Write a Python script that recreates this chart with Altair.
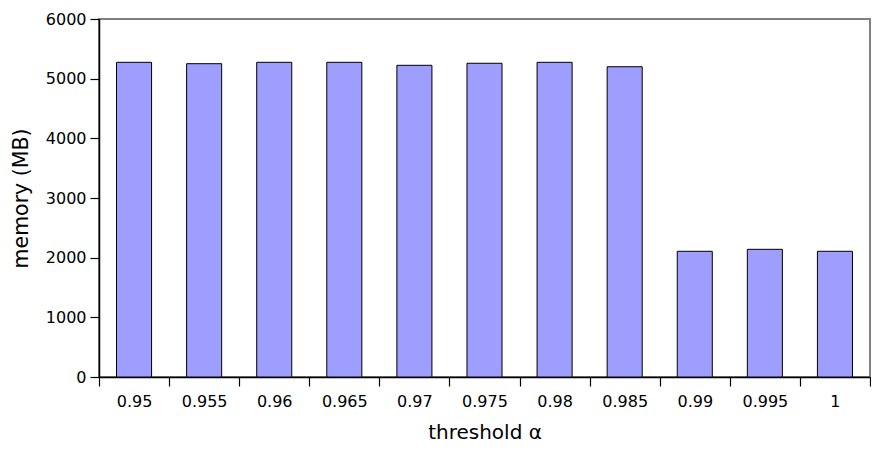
import altair as alt
import pandas as pd

categories = ["0.95", "0.955", "0.96", "0.965", "0.97", "0.975", "0.98", "0.985", "0.99", "0.995", "1"]
memory = [5274, 5251, 5274, 5274, 5224, 5258, 5274, 5200, 2107, 2140, 2107]
y_ticks = [0, 1000, 2000, 3000, 4000, 5000, 6000]

df = pd.DataFrame({"idx": list(range(len(categories))), "alpha": categories, "memory": memory})

n = len(categories)
tick_vals = [i - 0.5 for i in range(n + 1)]
label_arr = "[" + ",".join("'" + c + "'" for c in categories) + ",'']"
W, H = 771, 358
step_px = W / n

FONT = "DejaVu Sans"

chart = (
    alt.Chart(df)
    .transform_calculate(x0="datum.idx - 0.25", x1="datum.idx + 0.25")
    .mark_bar(color="#9e9eff", stroke="black", strokeWidth=1, orient="vertical")
    .encode(
        x=alt.X(
            "x0:Q",
            scale=alt.Scale(domain=[-0.5, n - 0.5], nice=False, zero=False, padding=0),
            axis=alt.Axis(
                values=tick_vals,
                labelExpr=label_arr + "[round(datum.value + 0.5)]",
                labelOffset={"condition": {"test": f"datum.value > {n - 1}", "value": 0}, "value": step_px / 2},
                title="threshold α",
                grid=False,
                labelPadding=7,
                titlePadding=13,
            ),
        ),
        x2="x1:Q",
        y=alt.Y(
            "memory:Q",
            scale=alt.Scale(domain=[0, 6000], nice=False, padding=0),
            axis=alt.Axis(values=y_ticks, format="d", title="memory (MB)", grid=False,
                          labelPadding=4, titlePadding=14, titleFontSize=20.5),
        ),
        y2=alt.datum(0),
    )
    .properties(
        width=W,
        height=H,
        autosize=alt.AutoSizeParams(type="none"),
        padding={"left": 91, "top": 11, "right": 1, "bottom": 70},
    )
    .configure_view(stroke="#808080", strokeWidth=2)
    .configure_axis(
        domainColor="black",
        domainWidth=1.5,
        tickColor="black",
        tickWidth=1.2,
        tickSize=9,
        labelFont=FONT,
        labelFontSize=16,
        labelColor="black",
        titleFont=FONT,
        titleFontSize=20,
        titleFontWeight="normal",
        titleColor="black",
        labelFlush=False,
        labelOverlap=False,
    )
)

chart.save("out.html", embed_options={"renderer": "svg", "actions": False})
